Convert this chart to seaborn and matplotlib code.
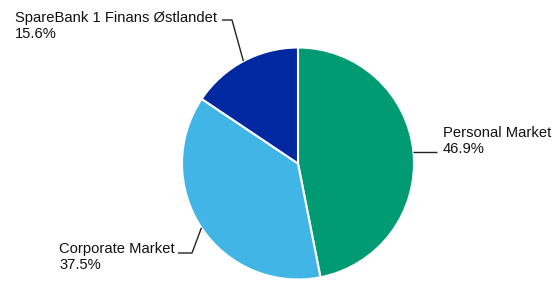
import numpy as np
import matplotlib
matplotlib.use("Agg")
import matplotlib.pyplot as plt
import seaborn as sns

categories = ["Personal Market", "Corporate Market", "SpareBank 1 Finans Østlandet"]
shares = [46.9, 37.5, 15.6]
colors = ["#009A73", "#41B6E6", "#0028A0"]

sns.set_style("white")
plt.rcParams["font.family"] = ["Liberation Sans", "DejaVu Sans"]

W, H = 553, 281
fig = plt.figure(figsize=(W / 100, H / 100), dpi=100)
ax = fig.add_axes([0, 0, 1, 1])
ax.set_xlim(0, W)
ax.set_ylim(0, H)
ax.set_aspect("equal")
ax.axis("off")

def Y(py):
    return H - py

cx, cy, R = 298, 163.5, 116
wedges, _ = ax.pie(shares, colors=colors, startangle=90, counterclock=False,
                   center=(cx, Y(cy)), radius=R,
                   wedgeprops=dict(edgecolor="white", linewidth=1.5))
ax.set_xlim(0, W)
ax.set_ylim(0, H)

# label layout (pixel coords): elbow, line end, text left x, baselines
layout = {
    "Personal Market": dict(elbow=None, end=437, tx=443, ly=152, base=(137, 153)),
    "Corporate Market": dict(elbow=(192, 253), end=178, tx=59, ly=253, base=(253, 269)),
    "SpareBank 1 Finans Østlandet": dict(elbow=(232, 20), end=222, tx=15, ly=20, base=(22, 38)),
}

for w, cat, val in zip(wedges, categories, shares):
    mid = np.deg2rad((w.theta1 + w.theta2) / 2)
    ex, ey = cx + R * np.cos(mid), Y(cy) + R * np.sin(mid)
    L = layout[cat]
    if L["elbow"] is None:
        xs = [ex, L["end"]]
        ys = [Y(L["ly"]), Y(L["ly"])]
    else:
        bx, by = L["elbow"]
        xs = [ex, bx, L["end"]]
        ys = [ey, Y(by), Y(by)]
    ax.plot(xs, ys, color="#222222", lw=1.0, solid_capstyle="butt")
    ax.text(L["tx"], Y(L["base"][0]), cat, ha="left", va="baseline",
            fontsize=10.6, color="#111111")
    ax.text(L["tx"], Y(L["base"][1]), f"{val:.1f}%", ha="left", va="baseline",
            fontsize=10.6, color="#111111")

fig.savefig("out.png", dpi=100)
